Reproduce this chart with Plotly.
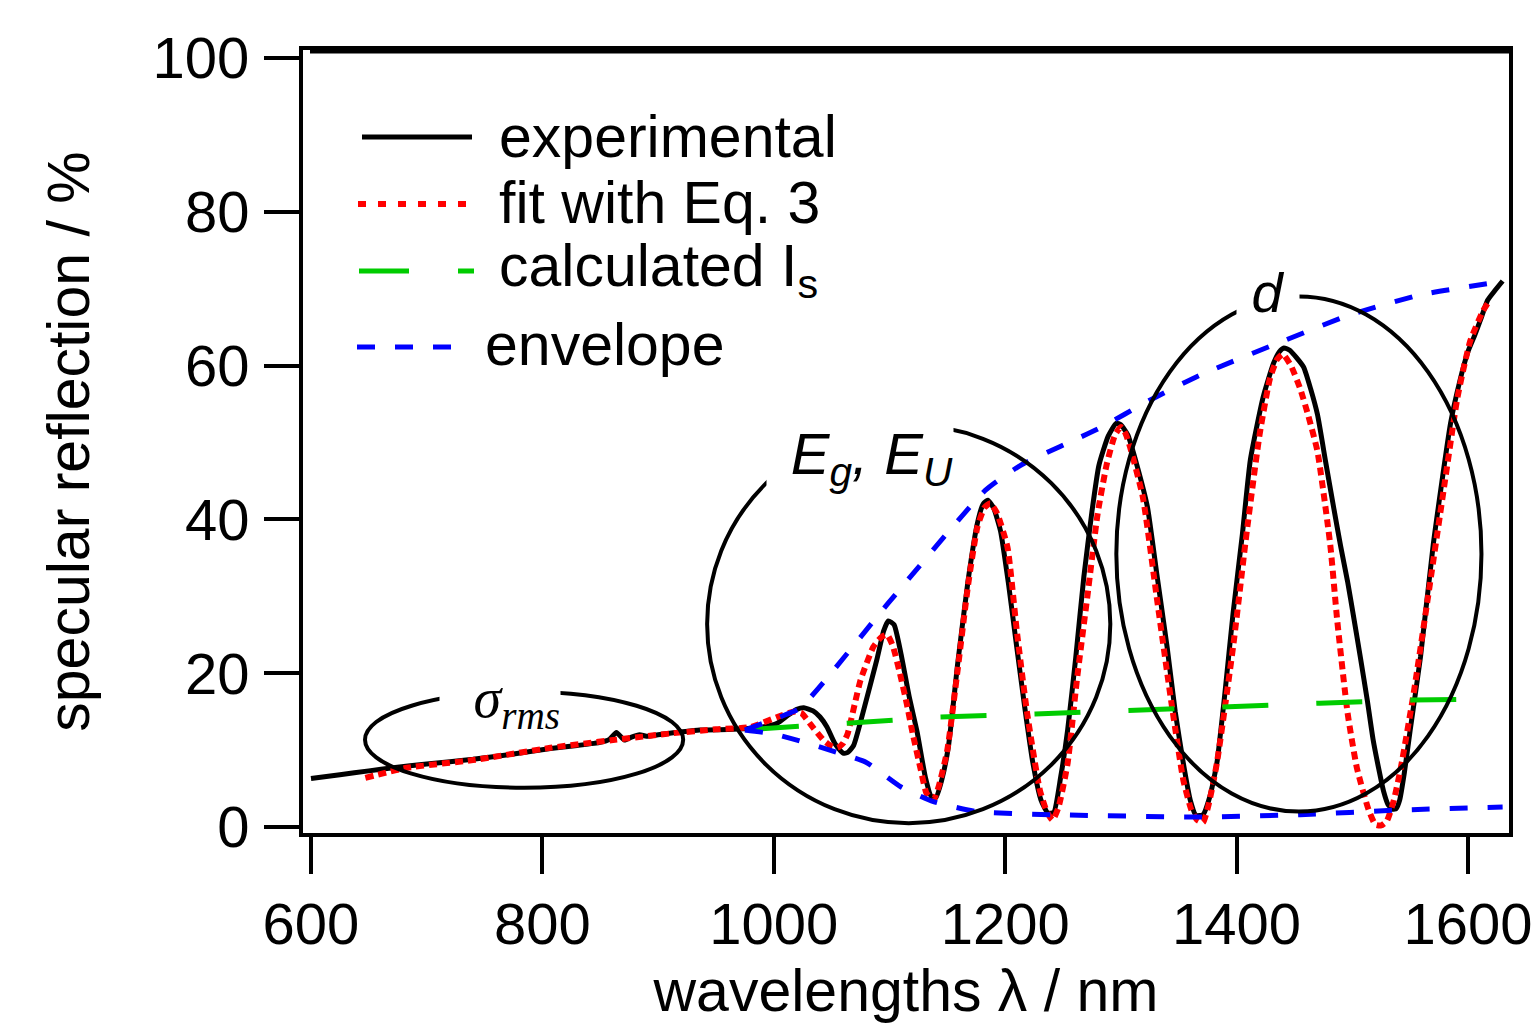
import plotly.graph_objects as go

# ---------------- data ----------------
wl_exp = [600, 625, 650, 671, 700, 740, 775, 807, 830, 850, 858, 864, 871, 877, 884, 890, 900,
          936, 965, 990, 1003, 1012, 1020, 1026, 1034, 1040, 1046, 1053, 1060, 1064, 1069, 1077,
          1089, 1095, 1099, 1104, 1110, 1117, 1124, 1131, 1136, 1140, 1145, 1151, 1159, 1168,
          1176, 1181, 1185, 1190, 1196, 1203, 1210, 1217, 1224, 1231, 1237, 1242, 1248, 1254,
          1261, 1268, 1275, 1281, 1289, 1296, 1300, 1306, 1314, 1323, 1331, 1340, 1347, 1354,
          1360, 1365, 1371, 1377, 1383, 1390, 1397, 1405, 1412, 1423, 1432, 1437, 1441, 1446,
          1452, 1458, 1464, 1470, 1477, 1484, 1490, 1496, 1501, 1507, 1513, 1518, 1523, 1527,
          1531, 1535, 1538, 1541, 1545, 1550, 1559, 1570, 1585, 1593, 1600, 1606, 1611, 1617,
          1623, 1630]
r_exp = [6.3, 6.8, 7.3, 7.7, 8.2, 8.8, 9.5, 10.2, 10.6, 11.0, 11.4, 12.3, 11.3, 11.7, 12.0, 11.8, 12.0,
         12.6, 12.7, 13.0, 13.5, 14.5, 15.3, 15.5, 15.1, 14.3, 13.0, 10.8, 9.6, 9.7, 10.6, 14.8,
         21.7, 25.5, 26.8, 26.3, 22.5, 17.0, 12.3, 6.5, 4.0, 3.8, 6.0, 10.5, 21.3, 32.1,
         39.5, 42.0, 42.5, 41.5, 38.5, 31.5, 23.4, 15.5, 8.3, 3.5, 1.8, 1.9, 6.5, 12.6,
         22.0, 32.5, 41.0, 47.0, 50.8, 52.5, 52.3, 51.0, 47.0, 41.6, 33.0, 23.4, 15.0, 8.3,
         3.5, 1.5, 1.6, 4.0, 8.3, 17.5, 27.8, 38.0, 47.8, 55.9, 60.3, 61.8, 62.3, 62.0,
         61.0, 59.8, 57.0, 53.6, 47.5, 41.5, 36.5, 31.9, 27.5, 22.1, 16.5, 11.4, 7.5, 4.7,
         2.9, 2.3, 2.4, 3.5, 7.0, 12.5, 22.1, 36.7, 52.5, 58.0, 61.8, 64.0, 66.0, 68.5,
         69.7, 71.0]

wl_fit = [647, 683, 740, 807, 861, 913, 950, 980, 1003, 1017, 1024, 1031, 1043, 1050, 1055, 1060,
          1064, 1070, 1075, 1086, 1093, 1098, 1103, 1109, 1115, 1120, 1127, 1132, 1138, 1143,
          1150, 1159, 1168, 1176, 1182, 1187, 1193, 1202, 1210, 1219, 1230, 1236, 1241, 1246,
          1254, 1262, 1271, 1280, 1288, 1295, 1300, 1304, 1308, 1319, 1331, 1343, 1354, 1361,
          1366, 1371, 1376, 1383, 1397, 1409, 1420, 1429, 1435, 1440, 1447, 1455, 1462, 1470,
          1481, 1487, 1496, 1504, 1514, 1520, 1525, 1530, 1536, 1542, 1553, 1565, 1579, 1591,
          1602, 1613, 1618]
r_fit = [6.4, 7.7, 8.7, 10.3, 11.3, 12.2, 12.7, 13.0, 14.3, 15.0, 14.8, 13.5, 11.3, 10.5, 10.3, 10.9,
         12.2, 16.0, 19.1, 23.4, 24.7, 25.0, 23.5, 20.0, 16.0, 12.2, 7.5, 4.4, 3.5, 5.5,
         10.0, 20.5, 31.5, 39.0, 41.5, 42.1, 40.8, 36.4, 25.6, 14.8, 4.8, 2.0, 0.9, 2.5,
         8.3, 19.1, 29.9, 40.8, 47.3, 51.0, 52.0, 51.2, 49.4, 42.9, 29.9, 16.9, 6.1, 2.2,
         0.9, 0.6, 3.0, 8.3, 23.4, 38.6, 51.1, 58.4, 60.8, 61.5, 60.0, 57.0, 53.5, 48.8,
         36.7, 26.9, 14.8, 7.7, 2.3, 0.3, 0.2, 0.8, 3.5, 7.7, 17.3, 29.4, 43.8, 55.9,
         63.2, 67.1, 68.3]

wl_is = [982, 1063, 1144, 1226, 1308, 1390, 1472, 1552, 1594]
r_is = [12.7, 13.5, 14.3, 14.7, 15.2, 15.6, 16.1, 16.5, 16.6]

wl_env_up = [975, 1005, 1023, 1100, 1183, 1213, 1282, 1325, 1369, 1442, 1498, 1559, 1628]
r_env_up = [12.6, 14.3, 15.5, 29.3, 43.8, 47.0, 51.9, 55.5, 58.8, 63.3, 66.6, 69.2, 70.9]

wl_env_low = [975, 1000, 1020, 1057, 1080, 1110, 1138, 1176, 1240, 1370, 1455, 1540, 1630]
r_env_low = [12.6, 12.1, 11.3, 9.6, 8.4, 5.2, 3.3, 2.0, 1.6, 1.3, 1.6, 2.2, 2.6]

x_ticks = [600, 800, 1000, 1200, 1400, 1600]
y_ticks = [0, 20, 40, 60, 80, 100]

legend_labels = ["experimental", "fit with Eq. 3", "calculated I<sub>s</sub>", "envelope"]

# ---------------- layout geometry (pixels) ----------------
W, H = 1539, 1024
L, R, T, B = 303, 1509, 50, 833


def xp(px):
    return (px - L) / (R - L)


def yp(py):
    return (B - py) / (B - T)


FONT = "Liberation Sans, Arial, sans-serif"

fig = go.Figure()
fig.add_trace(go.Scatter(x=wl_exp, y=r_exp, mode="lines", name="experimental",
                         line=dict(color="black", width=5, shape="spline", smoothing=0.5)))
fig.add_trace(go.Scatter(x=wl_fit, y=r_fit, mode="lines", name="fit with Eq. 3",
                         line=dict(color="#ff0000", width=6, dash="8px,5px", shape="spline", smoothing=0.5)))
fig.add_trace(go.Scatter(x=wl_is, y=r_is, mode="lines", name="calculated Is",
                         line=dict(color="#00cc00", width=5, dash="46px,48px")))
fig.add_trace(go.Scatter(x=wl_env_up, y=r_env_up, mode="lines", name="envelope",
                         line=dict(color="#0000ff", width=5, dash="18px,20px", shape="spline", smoothing=0.5)))
fig.add_trace(go.Scatter(x=wl_env_low, y=r_env_low, mode="lines", name="envelope low",
                         line=dict(color="#0000ff", width=5, dash="18px,20px", shape="spline", smoothing=0.5)))

shapes = []
# ellipses (data coordinates)
for (x0, x1, y0, y1) in [(646.7, 921.7, 5.1, 17.6), (942.4, 1290.9, 0.5, 52.3), (1296.1, 1611.7, 2.0, 69.0)]:
    shapes.append(dict(type="circle", xref="x", yref="y", x0=x0, x1=x1, y0=y0, y1=y1,
                       line=dict(color="black", width=4)))
# thicker top frame line
shapes.append(dict(type="line", xref="paper", yref="paper", x0=xp(310), x1=1.0, y0=yp(50), y1=yp(50),
                   line=dict(color="black", width=7)))
# legend samples
leg_samples = [
    (362, 472, 137, dict(color="black", width=5)),
    (358, 468, 204, dict(color="#ff0000", width=6, dash="8px,12px")),
    (359, 474, 271, dict(color="#00cc00", width=5, dash="50px,49px")),
    (357, 451, 347, dict(color="#0000ff", width=5, dash="18px,20px")),
]
for x0, x1, py, ln in leg_samples:
    shapes.append(dict(type="line", xref="paper", yref="paper", x0=xp(x0), x1=xp(x1),
                       y0=yp(py), y1=yp(py), line=ln))

annotations = []
leg_text_pos = [(497, 137), (497, 203), (497, 270), (483, 345)]
for (px, py), txt in zip(leg_text_pos, legend_labels):
    annotations.append(dict(xref="paper", yref="paper", x=xp(px), y=yp(py), xanchor="left",
                            yanchor="middle", text=txt, showarrow=False,
                            font=dict(family=FONT, size=59, color="black")))

# region labels with white boxes masking the ellipses
annotations.append(dict(xref="paper", yref="paper", x=xp(500), y=yp(702), xanchor="center", yanchor="middle",
                        text="<i>σ<sub>rms</sub></i>", showarrow=False, bgcolor="white",
                        width=120, height=62, align="right", borderpad=0,
                        font=dict(family="Liberation Serif, Times New Roman, serif", size=56, color="black")))
annotations.append(dict(xref="paper", yref="paper", x=xp(860), y=yp(458), xanchor="center", yanchor="middle",
                        text="<i>E<sub>g</sub>, E<sub>U</sub></i>", showarrow=False, bgcolor="white",
                        width=186, height=80, align="right", borderpad=0,
                        font=dict(family=FONT, size=58, color="black")))
annotations.append(dict(xref="paper", yref="paper", x=xp(1268), y=yp(292), xanchor="center", yanchor="middle",
                        text="<i>d</i>", showarrow=False, bgcolor="white",
                        width=62, height=56, borderpad=0,
                        font=dict(family=FONT, size=56, color="black")))

fig.update_layout(
    width=W, height=H,
    margin=dict(l=L, r=W - R, t=T, b=H - B, pad=0, autoexpand=False),
    paper_bgcolor="white", plot_bgcolor="white",
    showlegend=False,
    font=dict(family=FONT, color="black"),
    shapes=shapes, annotations=annotations,
    xaxis=dict(range=[593.1, 1635.5], tickvals=x_ticks, ticktext=[str(v) for v in x_ticks],
               ticks="outside", ticklen=37, tickwidth=4, tickcolor="black", automargin=False,
               showline=True, linewidth=4, linecolor="black", mirror=True,
               showgrid=False, zeroline=False, ticklabelstandoff=0,
               tickfont=dict(family=FONT, size=58, color="black"),
               title=dict(text="wavelengths λ / nm", font=dict(family=FONT, size=59, color="black"), standoff=22)),
    yaxis=dict(range=[-0.78, 101.04], tickvals=y_ticks, ticktext=[str(v) for v in y_ticks],
               ticks="outside", ticklen=35, tickwidth=4, tickcolor="black", automargin=False,
               showline=True, linewidth=4, linecolor="black", mirror=True,
               showgrid=False, zeroline=False, ticklabelstandoff=3,
               tickfont=dict(family=FONT, size=58, color="black"),
               title=dict(text="specular reflection / %", font=dict(family=FONT, size=59, color="black"), standoff=45)),
)

fig.write_html("out.html")
